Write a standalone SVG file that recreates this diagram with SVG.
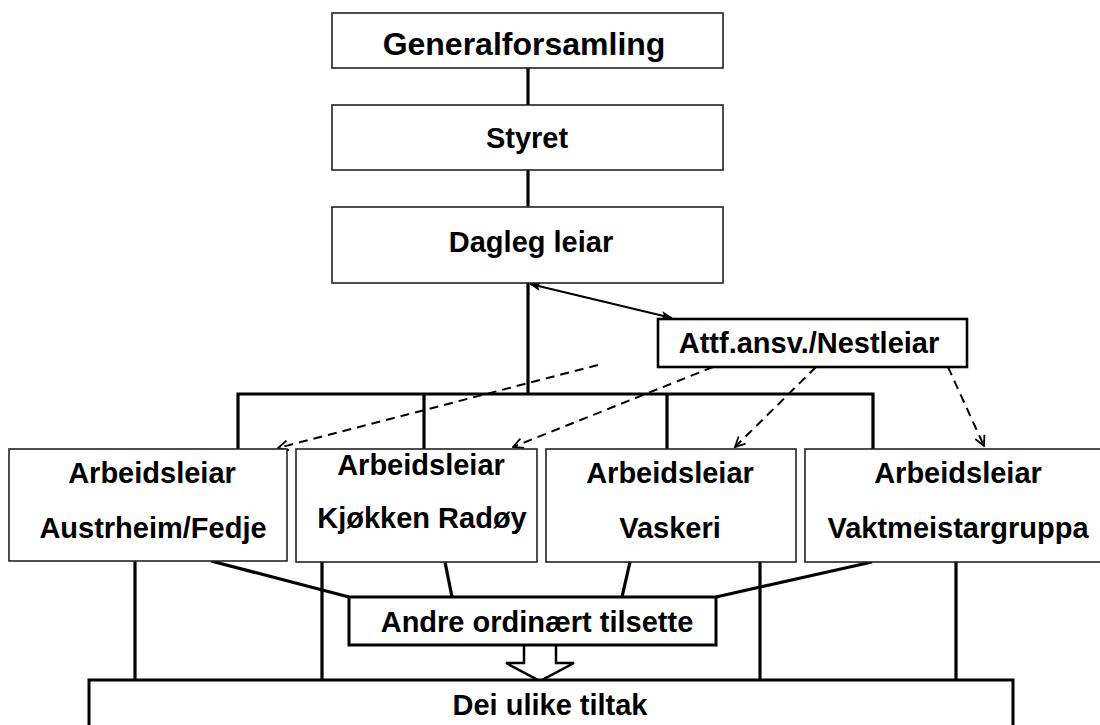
<svg xmlns="http://www.w3.org/2000/svg" width="1100" height="725" viewBox="0 0 1100 725">
<defs>
<style>
.box{fill:#fff;stroke:#222;stroke-width:1.6}
.tbox{fill:#fff;stroke:#000;stroke-width:3}
.t{font-family:"Liberation Sans",Arial,sans-serif;font-weight:bold;font-size:29px;fill:#000;text-anchor:middle}
.thick{stroke:#000;stroke-width:3.2;fill:none}
.dash{stroke:#000;stroke-width:2;fill:none;stroke-dasharray:9,6}
.thin{stroke:#000;stroke-width:2;fill:none}
</style>
<marker id="v" viewBox="0 0 12 12" refX="11" refY="6" markerWidth="12" markerHeight="12" markerUnits="userSpaceOnUse" orient="auto">
<path d="M1,1 L11,6 L1,11" fill="none" stroke="#000" stroke-width="1.8"/>
</marker>
<marker id="f" viewBox="0 0 12 12" refX="11" refY="6" markerWidth="12" markerHeight="12" markerUnits="userSpaceOnUse" orient="auto-start-reverse">
<path d="M0,1.5 L12,6 L0,10.5 L3,6 Z" fill="#000"/>
</marker>
</defs>
<rect width="1100" height="725" fill="#fff"/>
<g id="connectors">
<line class="thick" x1="528" y1="68" x2="528" y2="105"/>
<line class="thick" x1="528" y1="170" x2="528" y2="207"/>
<line class="thick" x1="528" y1="283" x2="528" y2="394"/>
<polyline class="thick" points="238,449 238,394 873,394 873,449"/>
<line class="thick" x1="424" y1="394" x2="424" y2="449"/>
<line class="thick" x1="667" y1="394" x2="667" y2="449"/>
<line class="thin" x1="530" y1="284" x2="672" y2="318" marker-start="url(#f)" marker-end="url(#f)"/>
<line class="dash" x1="598" y1="365" x2="278" y2="448" marker-end="url(#v)"/>
<line class="dash" x1="713" y1="367" x2="513" y2="447" marker-end="url(#v)"/>
<line class="dash" x1="816" y1="367" x2="735" y2="447" marker-end="url(#v)"/>
<line class="dash" x1="948" y1="367" x2="984" y2="446" marker-end="url(#v)"/>
<line class="thick" x1="135" y1="561" x2="135" y2="680"/>
<line class="thick" x1="322" y1="562" x2="322" y2="680"/>
<line class="thick" x1="760" y1="562" x2="760" y2="680"/>
<line class="thick" x1="956" y1="562" x2="956" y2="680"/>
<line class="thick" x1="211" y1="561" x2="349" y2="597"/>
<line class="thick" x1="445" y1="562" x2="452" y2="597"/>
<line class="thick" x1="630" y1="562" x2="622" y2="597"/>
<line class="thick" x1="872" y1="562" x2="716" y2="597"/>
<path d="M524,645 L524,663 L506,663 L540,681 L574,663 L556,663 L556,645" fill="#fff" stroke="#000" stroke-width="2.5" stroke-linejoin="miter"/>
</g>
<g id="n-generalforsamling">
<rect class="box" x="332" y="13" width="391" height="55"/>
<text class="t" x="524" y="55" style="font-size:32px">Generalforsamling</text>
</g>
<g id="n-styret">
<rect class="box" x="332" y="105" width="391" height="65"/>
<text class="t" x="527" y="148">Styret</text>
</g>
<g id="n-dagleg">
<rect class="box" x="332" y="207" width="391" height="76"/>
<text class="t" x="531" y="252">Dagleg leiar</text>
</g>
<g id="n-attf">
<rect class="tbox" x="658" y="319" width="309" height="48" style="stroke-width:2.6"/>
<text class="t" x="809" y="353">Attf.ansv./Nestleiar</text>
</g>
<g id="n-austrheim">
<rect class="box" x="9" y="449" width="278" height="112"/>
<text class="t" x="152" y="483">Arbeidsleiar</text>
<text class="t" x="153" y="538">Austrheim/Fedje</text>
</g>
<g id="n-kjokken">
<rect class="box" x="296" y="449" width="241" height="113"/>
<text class="t" x="421" y="475">Arbeidsleiar</text>
<text class="t" x="422" y="528">Kjøkken Radøy</text>
</g>
<g id="n-vaskeri">
<rect class="box" x="546" y="449" width="250" height="113"/>
<text class="t" x="670" y="483">Arbeidsleiar</text>
<text class="t" x="670" y="538">Vaskeri</text>
</g>
<g id="n-vaktmeistar">
<rect class="box" x="805" y="449" width="310" height="113"/>
<text class="t" x="958" y="483">Arbeidsleiar</text>
<text class="t" x="958" y="538">Vaktmeistargruppa</text>
</g>
<g id="n-andre">
<rect class="tbox" x="349" y="597" width="367" height="48"/>
<text class="t" x="537" y="632">Andre ordinært tilsette</text>
</g>
<g id="n-tiltak">
<rect class="tbox" x="89" y="680" width="924" height="60"/>
<text class="t" x="550" y="715">Dei ulike tiltak</text>
</g>
</svg>
